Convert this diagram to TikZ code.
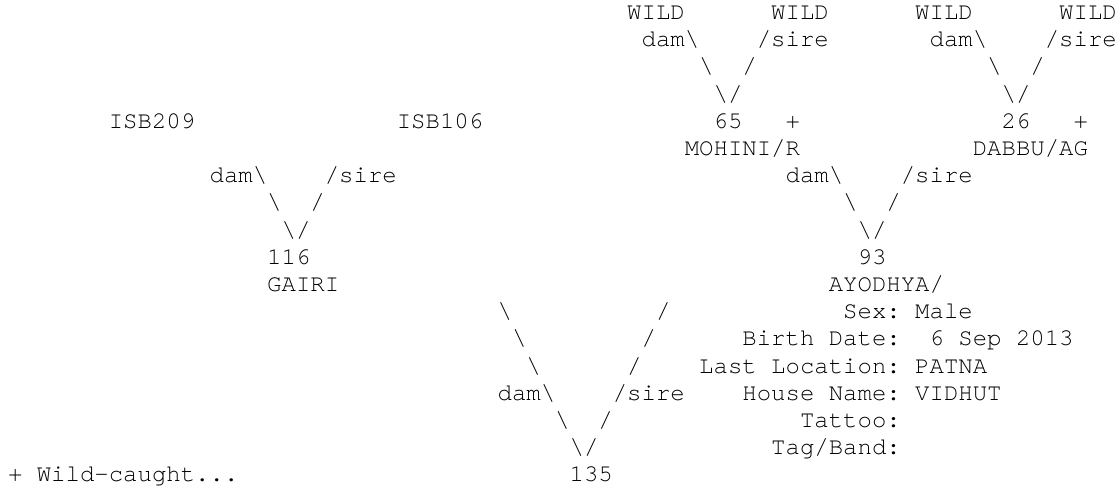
\documentclass[tikz,border=0pt]{standalone}
\usepackage{fontspec}
\setmonofont{TeX Gyre Cursor}
\definecolor{pedink}{HTML}{000000}
\newcommand{\bsl}{\textbackslash}

\begin{document}
\frenchspacing
\begin{tikzpicture}[
  x=10.8pt, y={(0pt,-20.4pt)},
  txt/.style = {font=\ttfamily\fontsize{18pt}{20.4pt}\selectfont, color=pedink,
                inner sep=0pt, outer sep=0pt, anchor=base west},
  lnk/.style = {txt},
  idn/.style = {txt},
  lbl/.style = {txt}
]
\path[use as bounding box] (0pt,0pt) rectangle (840pt,-366pt);

\begin{scope}[shift={(6pt,-14.6pt)}]
% great-grandparents
\node[idn] (wild65d) at (43,0) {WILD};
\node[idn] (wild65s) at (53,0) {WILD};
\node[idn] (wild26d) at (63,0) {WILD};
\node[idn] (wild26s) at (73,0) {WILD};
\node[lnk] (dam65)  at (44,1) {dam\bsl};
\node[lnk] (sire65) at (52,1) {/sire};
\node[lnk] (dam26)  at (64,1) {dam\bsl};
\node[lnk] (sire26) at (72,1) {/sire};
\node[lnk] (l65a) at (48,2) {\bsl};
\node[lnk] (r65a) at (51,2) {/};
\node[lnk] (l26a) at (68,2) {\bsl};
\node[lnk] (r26a) at (71,2) {/};
\node[lnk] (v65) at (49,3) {\bsl/};
\node[lnk] (v26) at (69,3) {\bsl/};

% grandparents
\node[idn] (isb209) at (7,4)  {ISB209};
\node[idn] (isb106) at (27,4) {ISB106};
\node[idn] (n65)    at (49,4) {65};
\node[idn] (wc65)   at (54,4) {+};
\node[idn] (n26)    at (69,4) {26};
\node[idn] (wc26)   at (74,4) {+};
\node[idn] (mohini) at (47,5) {MOHINI/R};
\node[idn] (dabbu)  at (67,5) {DABBU/AG};
\node[lnk] (dam116)  at (14,6) {dam\bsl};
\node[lnk] (sire116) at (22,6) {/sire};
\node[lnk] (dam93)   at (54,6) {dam\bsl};
\node[lnk] (sire93)  at (62,6) {/sire};
\node[lnk] (l116a) at (18,7) {\bsl};
\node[lnk] (r116a) at (21,7) {/};
\node[lnk] (l93a)  at (58,7) {\bsl};
\node[lnk] (r93a)  at (61,7) {/};
\node[lnk] (v116) at (19,8) {\bsl/};
\node[lnk] (v93)  at (59,8) {\bsl/};

% parents
\node[idn] (n116)   at (18,9)  {116};
\node[idn] (n93)    at (59,9)  {93};
\node[idn] (gairi)  at (18,10) {GAIRI};
\node[idn] (ayodhya) at (57,10) {AYODHYA/};

% subject
\node[lnk] (l135a) at (34,11) {\bsl};
\node[lnk] (r135a) at (45,11) {/};
\node[lnk] (l135b) at (35,12) {\bsl};
\node[lnk] (r135b) at (44,12) {/};
\node[lnk] (l135c) at (36,13) {\bsl};
\node[lnk] (r135c) at (43,13) {/};
\node[lnk] (dam135)  at (34,14) {dam\bsl};
\node[lnk] (sire135) at (42,14) {/sire};
\node[lnk] (l135d) at (38,15) {\bsl};
\node[lnk] (r135d) at (41,15) {/};
\node[lnk] (v135)  at (39,16) {\bsl/};
\node[idn] (n135)  at (39,17) {135};

% details
\node[lbl] (sexk)   at (58,11) {Sex:};
\node[lbl] (sexv)   at (63,11) {Male};
\node[lbl] (birthk) at (51,12) {Birth Date:};
\node[lbl] (birthv) at (64,12) {6 Sep 2013};
\node[lbl] (lock)   at (48,13) {Last Location:};
\node[lbl] (locv)   at (63,13) {PATNA};
\node[lbl] (housek) at (51,14) {House Name:};
\node[lbl] (housev) at (63,14) {VIDHUT};
\node[lbl] (tattk)  at (55,15) {Tattoo:};
\node[lbl] (tagk)   at (53,16) {Tag/Band:};

\node[lbl] (note) at (0,17) {+ Wild-caught...};
\end{scope}
\end{tikzpicture}
\end{document}
